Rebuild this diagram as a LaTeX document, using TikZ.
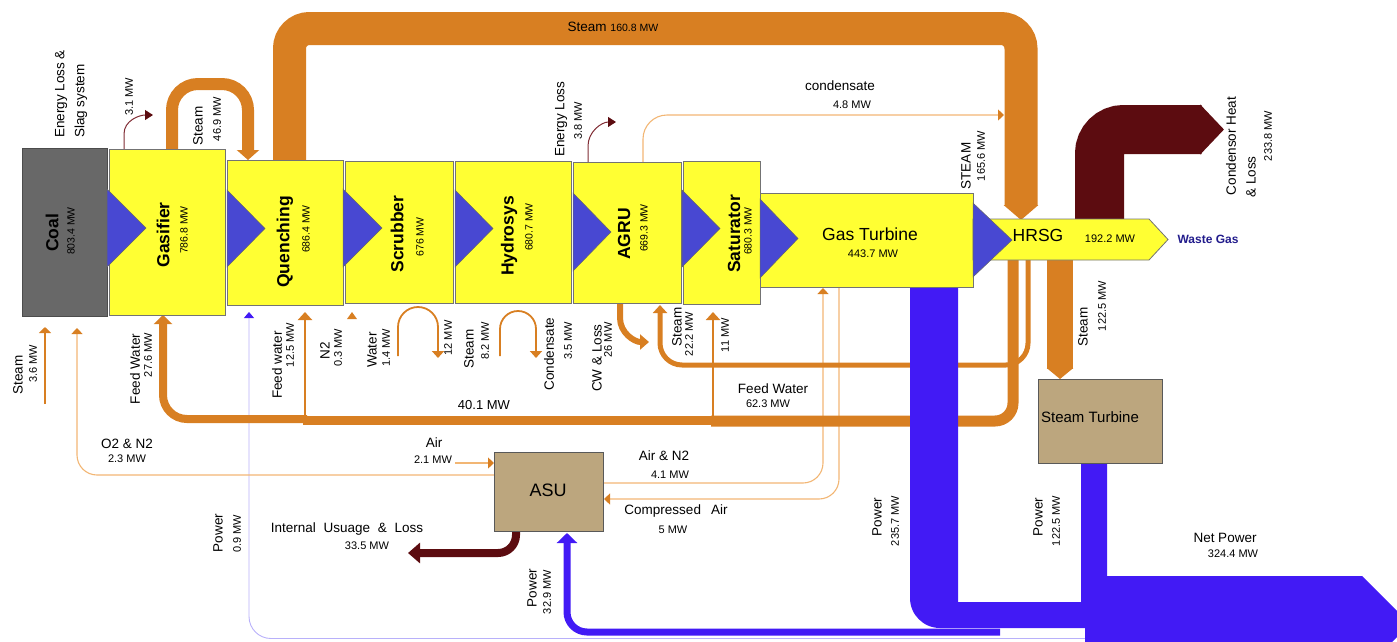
\documentclass[tikz,border=0pt]{standalone}
\usepackage{fontspec}
\setmainfont{Liberation Sans}
\usetikzlibrary{arrows.meta,positioning,calc}
\definecolor{unityellow}{RGB}{255,255,51}
\definecolor{coalgrey}{RGB}{104,104,104}
\definecolor{triblue}{RGB}{72,72,210}
\definecolor{powerblue}{RGB}{66,26,245}
\definecolor{steamorange}{RGB}{216,127,34}
\definecolor{paleorange}{RGB}{242,182,116}
\definecolor{lossred}{RGB}{92,12,16}
\definecolor{curvered}{RGB}{128,44,52}
\definecolor{asutan}{RGB}{188,166,126}
\definecolor{wastenavy}{RGB}{34,28,140}
\definecolor{lavender}{RGB}{184,176,250}

\begin{document}
\begin{tikzpicture}[x=1pt, y=-1pt,
    unit/.style={rectangle, draw=black!55, fill=unityellow, line width=0.8pt, anchor=north west, inner sep=0pt},
    plant/.style={rectangle, draw=black!65, fill=asutan, line width=0.8pt, anchor=north west, inner sep=0pt},
    uname/.style={rotate=90, inner sep=0pt, font=\bfseries\fontsize{17.5}{18}\selectfont},
    uval/.style={rotate=90, inner sep=0pt, font=\fontsize{10.5}{11}\selectfont},
    lbl/.style={inner sep=0pt, font=\fontsize{13.5}{15}\selectfont},
    val/.style={inner sep=0pt, font=\fontsize{11}{12}\selectfont},
    vlbl/.style={lbl, rotate=90},
    vval/.style={val, rotate=90},
    band/.style={draw=steamorange},
    airline/.style={draw=paleorange, line width=1.1pt, rounded corners=20pt,
        -{Triangle[length=6pt,width=11pt,color=steamorange]}},
    losscurve/.style={draw=curvered, line width=1pt, -{Triangle[length=8pt,width=10pt,color=lossred]}}
]
    \useasboundingbox (0,0) rectangle (1397,641);
    \clip (0,0) rectangle (1397,641);

    % thin feeds
    \draw[lavender, line width=0.9pt, rounded corners=22pt, -{Triangle[length=6pt,width=10pt,color=powerblue]}]
        (1090,638.5) -- (249,638.5) -- (249,312);
    \draw[airline] (494,475) -- (77,475) -- (77,328);
    \draw[airline] (455,463) -- (494,463);
    \draw[airline] (603,483) -- (823,483) -- (823,288);
    \draw[airline] (839,288) -- (839,499) -- (604,499);
    \draw[airline, rounded corners=24pt] (643,164) -- (643,115) -- (1004,115);
    \draw[losscurve] (124,150) -- (124,134) to[out=90,in=180] (153,115);
    \draw[losscurve] (588,164) -- (588,146) to[out=90,in=180] (616,122);

    % steam and water bands
    \draw[band, line width=33pt, rounded corners=20pt, -{Triangle[length=15pt,width=34pt]}]
        (289.5,164) -- (289.5,28.5) -- (1021,28.5) -- (1021,220);
    \draw[band, line width=12pt, rounded corners=26pt, -{Triangle[length=10pt,width=22pt]}]
        (172,151) -- (172,84) -- (248,84) -- (248,160);
    \draw[band, line width=26pt, -{Triangle[length=11pt,width=26pt]}] (1060,258) -- (1060,379);
    \draw[band, line width=5pt, rounded corners=22pt, -{Triangle[length=8pt,width=14pt]}]
        (1028,258) -- (1028,365) -- (660,365) -- (660,305);
    \draw[band, line width=11pt, rounded corners=18pt] (711,421) -- (1013,421) -- (1013,258);
    \draw[band, line width=9pt] (715,420) -- (303,420);
    \draw[band, line width=8pt, rounded corners=24pt, -{Triangle[length=9pt,width=18pt]}]
        (307,419) -- (163,419) -- (163,315);
    \draw[band, line width=2.5pt, -{Triangle[length=8pt,width=14pt]}] (305,421) -- (305,312);
    \draw[band, line width=2.5pt, -{Triangle[length=8pt,width=14pt]}] (713,421) -- (713,312);
    \draw[band, line width=6pt, -{Triangle[length=9pt,width=15pt]}]
        (620,300) -- (620,318) to[out=-90,in=180] (649,342);
    \draw[band, line width=1.5pt, -{Triangle[length=6pt,width=12pt]}] (45,404) -- (45,327);
    \draw[band, line width=1.8pt, rounded corners=20pt, -{Triangle[length=7pt,width=12pt]}]
        (398,356) -- (398,307) -- (438,307) -- (438,358);
    \draw[band, line width=1.8pt, rounded corners=18pt, -{Triangle[length=7pt,width=12pt]}]
        (500,356) -- (500,311) -- (536,311) -- (536,358);
    \fill[steamorange] (347,319) -- (352,312) -- (357,319) -- cycle;

    % losses
    \draw[lossred, line width=49pt, rounded corners=24pt, -{Triangle[length=24pt,width=49pt]}]
        (1099.5,222) -- (1099.5,129.5) -- (1224,129.5);
    \draw[lossred, line width=8pt, rounded corners=18pt, -{Triangle[length=12pt,width=20pt]}]
        (516,530) -- (516,553) -- (408,553);

    % power
    \draw[powerblue, line width=7pt, rounded corners=20pt, -{Triangle[length=10pt,width=20pt]}]
        (1000,632) -- (567,632) -- (567,533);
    \fill[powerblue] (910,286) -- (958,286) -- (958,602) -- (1081,602) -- (1081,462) -- (1107,462)
        -- (1107,576) -- (1362,576) -- (1410,624) -- (1362,672) -- (1085,672) -- (1085,628)
        -- (940,628) to[out=180,in=-90] (910,598) -- cycle;

    % units
    \node[unit, fill=coalgrey, draw=black!70, minimum width=85pt, minimum height=168pt] (coal) at (22,148) {};
    \node[unit, minimum width=116pt, minimum height=166pt] (gasifier) at (109,149) {};
    \node[unit, minimum width=116pt, minimum height=145pt] (quench) at (227,160) {};
    \node[unit, minimum width=108pt, minimum height=142pt] (scrubber) at (345,161) {};
    \node[unit, minimum width=116pt, minimum height=142pt] (hydrosys) at (455,161) {};
    \node[unit, minimum width=108pt, minimum height=141pt] (agru) at (573,162) {};
    \node[unit, minimum width=77pt, minimum height=143pt] (saturator) at (683,161) {};
    \node[unit, minimum width=213pt, minimum height=94pt] (gasturb) at (760,193) {};
    \node[plant, minimum width=109pt, minimum height=79pt] (asu) at (494,452) {};
    \node[plant, minimum width=124pt, minimum height=84pt] (stturb) at (1038,379) {};
    \filldraw[fill=unityellow, draw=black!55, line width=0.8pt]
        (973,219) -- (1149,219) -- (1168,239.5) -- (1149,260) -- (973,260) -- cycle;

    \foreach \bx/\ty/\by/\tx in {107/189/267/146, 227/190/267/265, 343/189/267/382, 455/190/267/493,
        573/193/271/611, 682/190/267/720, 760/199/278/798, 973/203/277/1012}
        \filldraw[fill=triblue, draw=black!60, line width=0.5pt]
            (\bx,\ty) -- (\tx,{(\ty+\by)/2}) -- (\bx,\by) -- cycle;

    % unit texts
    \node[uname] (coalname) at (52,233) {Coal};
    \node[uval] (coalval) at (71,231) {803.4 MW};
    \node[uname] (gasname) at (163,235) {Gasifier};
    \node[uval] (gasval) at (184,230) {786.8 MW};
    \node[uname] (quenchname) at (285,242) {Quenching};
    \node[uval] (quenchval) at (306,229) {686.4 MW};
    \node[uname] (scrubname) at (397,234) {Scrubber};
    \node[uval] (scrubval) at (420,237) {676 MW};
    \node[uname] (hydroname) at (509,236) {Hydrosys};
    \node[uval] (hydroval) at (529,227) {680.7 MW};
    \node[uname] (agruname) at (624,234) {AGRU};
    \node[uval] (agruval) at (644,228) {669.3 MW};
    \node[uname] (satname) at (734,234) {Saturator};
    \node[uval] (satval) at (748,231) {680.3 MW};
    \node[font=\fontsize{17.5}{18}\selectfont, inner sep=0pt] (gtname) at (870,234) {Gas Turbine};
    \node[val] (gtval) at (873,254) {443.7 MW};
    \node[font=\fontsize{17.5}{18}\selectfont, inner sep=0pt] (hrsgname) at (1038,235) {HRSG};
    \node[val] (hrsgval) at (1110,239) {192.2 MW};
    \node[font=\bfseries\fontsize{12}{13}\selectfont, text=wastenavy, inner sep=0pt] (waste) at (1208,239) {Waste Gas};
    \node[font=\fontsize{18}{19}\selectfont, inner sep=0pt] (asuname) at (548,490) {ASU};
    \node[font=\fontsize{15}{16}\selectfont, inner sep=0pt] (stname) at (1090,417) {Steam Turbine};

    % flow texts
    \node[lbl] (steamtop) at (613,27) {Steam \fontsize{10.5}{11}\selectfont 160.8 MW};
    \node[lbl] (condlbl) at (840,86) {condensate};
    \node[val] (condval) at (852,105) {4.8 MW};
    \node[lbl] (o2lbl) at (127,444) {O2 \& N2};
    \node[val] (o2val) at (127,459) {2.3 MW};
    \node[lbl] (airlbl) at (434,443) {Air};
    \node[val] (airval) at (433,460) {2.1 MW};
    \node[lbl] (airn2lbl) at (664,456) {Air \& N2};
    \node[val] (airn2val) at (670,475) {4.1 MW};
    \node[lbl] (complbl) at (676,511) {Compressed\hspace{10pt}Air};
    \node[val] (compval) at (673,530) {5 MW};
    \node[lbl] (feedlbl) at (773,389) {Feed Water};
    \node[val] (feedval) at (768,404) {62.3 MW};
    \node[font=\fontsize{13}{14}\selectfont, inner sep=0pt] (midval) at (484,405) {40.1 MW};
    \node[lbl] (intlbl) at (347,529) {Internal\hspace{4pt} Usuage\hspace{4pt} \&\hspace{4pt} Loss};
    \node[val] (intval) at (367,546) {33.5 MW};
    \node[lbl] (netlbl) at (1225,538) {Net Power};
    \node[val] (netval) at (1233,554) {324.4 MW};

    \node[vlbl] (slaglbla) at (61,94) {Energy Loss \&};
    \node[vlbl] (slaglblb) at (81,101) {Slag system};
    \node[vval] (slagval) at (129,97) {3.1 MW};
    \node[vlbl] (gqlbl) at (198,126) {Steam};
    \node[vval] (gqval) at (217,119) {46.9 MW};
    \node[vlbl] (agrulosslbl) at (561,119) {Energy Loss};
    \node[vval] (agrulossval) at (578,121) {3.8 MW};
    \node[vlbl] (hrsginlbl) at (966,166) {STEAM};
    \node[vval] (hrsginval) at (981,156) {165.6 MW};
    \node[vlbl] (condlbla) at (1231,146) {Condensor Heat};
    \node[vlbl] (condlblb) at (1251,177) {\& Loss};
    \node[vval] (condheatval) at (1268,136) {233.8 MW};
    \node[vlbl] (coalsteamlbl) at (18,375) {Steam};
    \node[vval] (coalsteamval) at (33,364) {3.6 MW};
    \node[vlbl] (gfeedlbl) at (135,369) {Feed Water};
    \node[vval] (gfeedval) at (148,355) {27.6 MW};
    \node[vlbl] (qfeedlbl) at (277,365) {Feed water};
    \node[vval] (qfeedval) at (290,345) {12.5 MW};
    \node[vlbl] (n2lbl) at (325,351) {N2};
    \node[vval] (n2val) at (338,348) {0.3 MW};
    \node[vlbl] (waterlbl) at (372,350) {Water};
    \node[vval] (waterval) at (386,348) {1.4 MW};
    \node[vval] (waterout) at (448,338) {12 MW};
    \node[vlbl] (hsteamlbl) at (469,349) {Steam};
    \node[vval] (hsteamval) at (485,341) {8.2 MW};
    \node[vlbl] (hcondlbl) at (549,354) {Condensate};
    \node[vval] (hcondval) at (568,341) {3.5 MW};
    \node[vlbl] (cwlbl) at (597,358) {CW \& Loss};
    \node[vval] (cwval) at (608,340) {26 MW};
    \node[vlbl] (asteamlbl) at (677,327) {Steam};
    \node[vval] (asteamval) at (689,334) {22.2 MW};
    \node[vval] (satfeedval) at (725,335) {11 MW};
    \node[vlbl] (ststeamlbl) at (1083,327) {Steam};
    \node[vval] (ststeamval) at (1102,306) {122.5 MW};
    \node[vlbl] (qpowerlbl) at (218,533) {Power};
    \node[vval] (qpowerval) at (237,534) {0.9 MW};
    \node[vlbl] (asupowerlbl) at (532,588) {Power};
    \node[vval] (asupowerval) at (547,592) {32.9 MW};
    \node[vlbl] (gtpowerlbl) at (877,517) {Power};
    \node[vval] (gtpowerval) at (895,521) {235.7 MW};
    \node[vlbl] (stpowerlbl) at (1038,517) {Power};
    \node[vval] (stpowerval) at (1056,521) {122.5 MW};
\end{tikzpicture}
\end{document}
